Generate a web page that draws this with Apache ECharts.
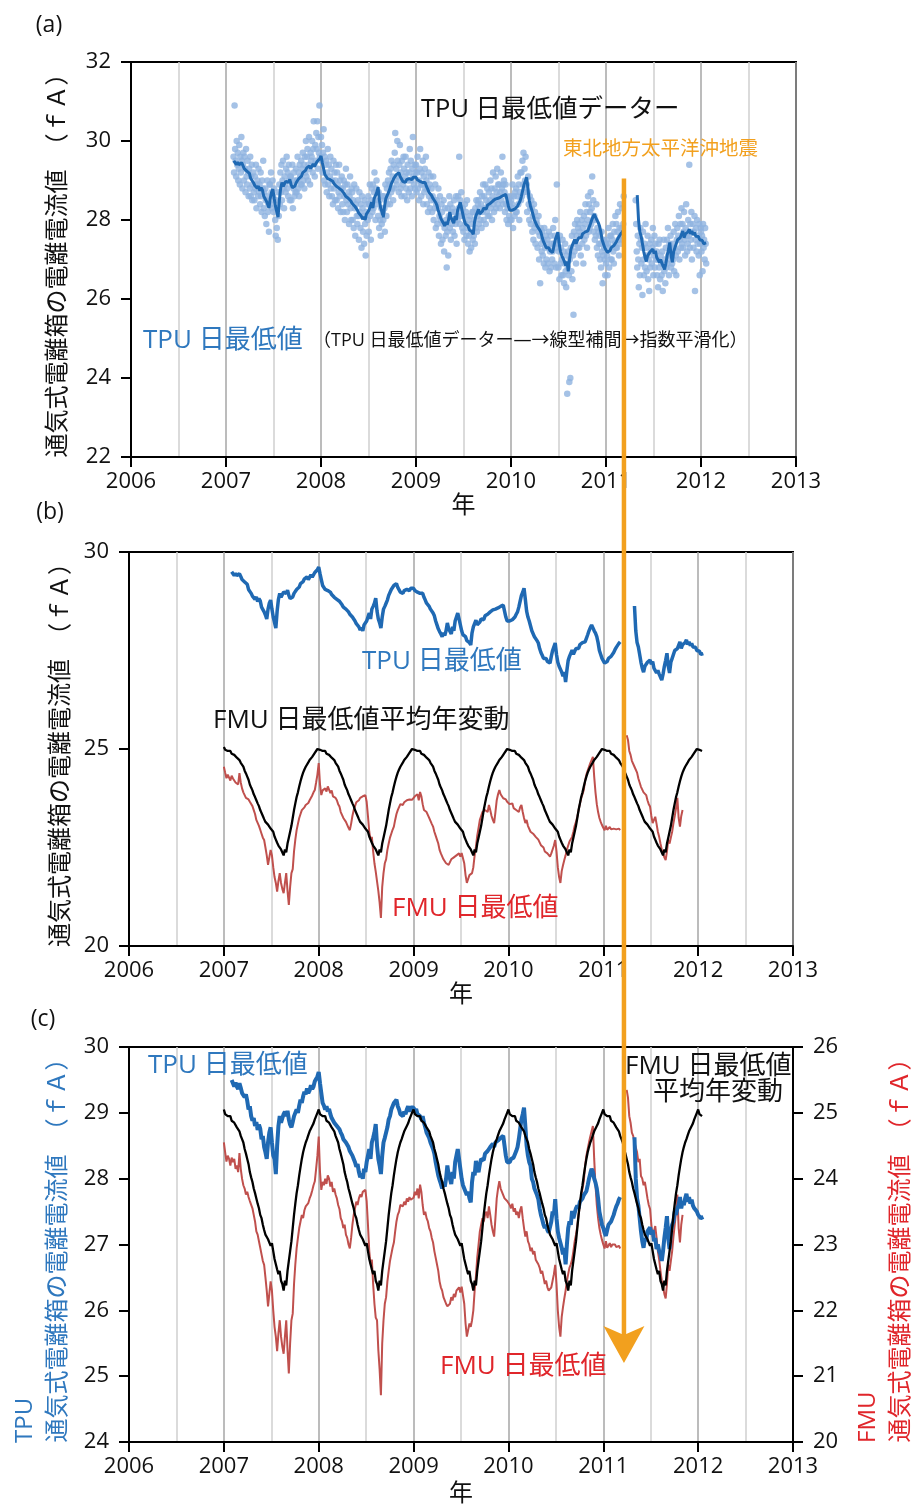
<!DOCTYPE html>
<html>
<head>
<meta charset="utf-8">
<script src="https://cdn.jsdelivr.net/npm/echarts@6/dist/echarts.min.js"></script>
<style>
  html, body { margin: 0; padding: 0; background: #fff; }
  #chart { width: 916px; height: 1510px; }
</style>
</head>
<body>
<div id="chart"></div>
<script>
// ---- Data -----------------------------------------------------------------
// TPU daily minimum ionisation current (fA), one reading every 2 days.
const tpuDaily2007 = [ // from 2007-01-30
  29.6,29.2,30.9,29.8,29.5,29.1,30.0,29.4,29.7,29.0,
  29.3,29.9,28.9,29.6,29.2,30.1,29.5,28.8,29.4,29.7,
  29.0,29.6,29.3,28.7,29.8,29.1,28.9,29.5,29.2,28.6,
  29.3,28.8,29.6,28.6,29.1,29.4,28.5,28.9,29.2,28.7,
  28.5,29.1,28.8,29.4,28.3,28.9,29.0,28.6,29.3,28.7,
  28.9,28.4,29.2,28.6,28.2,29.0,28.8,29.5,28.3,28.7,
  28.1,28.8,28.5,27.9,28.6,29.0,28.2,28.4,27.7,28.9,
  28.9,28.4,29.2,28.7,28.3,29.0,28.6,28.2,28.8,28.5,
  28.0,27.6,28.5,27.8,28.3,27.5,28.7,28.1,28.9,28.4,
  29.2,28.7,29.4,28.5,29.0,29.5,28.8,28.3,29.1,28.9,
  28.7,29.3,29.6,28.8,29.2,28.6,29.4,29.0,28.5,29.1,
  29.1,28.5,28.9,29.4,28.3,28.8,29.2,28.6,29.0,28.7,
  29.3,28.7,29.0,29.6,28.8,29.2,28.6,29.4,29.1,28.9,
  29.5,28.9,29.3,29.7,29.0,29.4,28.8,29.6,29.2,30.0,
  29.1,29.6,29.8,29.0,29.4,30.1,29.3,28.9,29.7,29.5,
  29.6,30.0,29.2,29.8,30.5,29.4,29.1,29.9,29.5,30.2,
  29.8,30.5,29.3,30.1,29.7,30.9,29.6
];
const tpuDaily2008 = [
  30.1,29.5,29.9,29.2,29.7,30.3,29.0,29.6,28.9,29.4,
  29.5,28.7,29.2,29.8,28.9,29.4,28.6,29.1,29.6,28.8,
  29.3,28.6,29.0,28.4,29.5,28.8,29.2,28.5,29.0,29.4,
  28.5,29.2,28.9,28.3,28.7,29.4,28.6,29.0,28.2,28.8,
  29.1,28.4,28.8,28.2,29.0,28.6,28.0,28.9,29.3,28.5,
  28.2,28.9,28.4,28.7,27.9,28.6,29.1,28.3,28.0,28.8,
  28.7,28.0,28.5,27.8,28.9,28.3,27.6,28.4,28.8,28.1,
  27.9,28.5,28.1,27.5,28.7,28.2,27.8,28.4,27.3,28.6,
  28.3,27.7,28.1,27.4,28.5,27.9,27.1,28.2,27.6,28.4,
  28.0,28.6,27.7,28.4,28.9,28.1,27.5,28.5,28.8,28.2,
  28.9,28.3,28.7,29.2,28.5,28.0,28.8,29.0,28.4,28.7,
  28.1,28.7,27.8,28.5,28.0,27.6,28.3,27.9,28.6,28.2,
  28.0,28.6,28.3,27.7,28.9,28.5,28.1,28.8,28.4,29.0,
  28.6,29.2,28.9,28.4,29.3,28.7,29.5,28.8,29.1,28.5,
  29.4,28.8,29.7,30.2,29.0,29.3,28.9,30.0,29.5,29.1,
  28.7,29.4,29.9,28.8,29.2,28.6,29.5,29.0,28.9,29.6,
  29.3,28.6,29.1,29.6,28.8,29.2,28.5,29.4,29.0,28.7,
  29.2,29.8,28.8,29.5,29.0,28.6,29.3,30.1,29.1,28.9,
  29.4,28.8,29.2
];
const tpuDaily2009 = [
  29.4,28.7,29.2,29.6,28.8,29.0,28.5,29.3,29.8,28.9,
  28.6,29.2,28.9,29.5,28.4,29.1,28.7,29.3,28.8,29.6,
  29.0,28.4,28.8,28.2,29.2,28.6,28.9,28.3,29.1,28.5,
  28.8,28.2,28.6,29.1,28.0,28.5,28.3,28.9,27.8,28.4,
  28.5,27.9,28.3,28.8,27.6,28.1,28.6,28.0,27.4,28.4,
  28.2,27.5,27.9,28.5,27.2,27.8,28.3,27.6,28.0,26.8,
  27.7,28.3,27.1,28.1,28.6,27.8,28.4,27.5,28.2,27.9,
  28.3,27.7,28.0,28.5,27.6,28.2,27.9,28.6,27.4,28.1,
  28.0,28.6,28.3,29.6,27.9,28.5,28.1,28.7,28.2,27.8,
  28.3,27.7,28.1,27.5,28.4,27.9,28.2,27.6,28.5,27.8,
  27.4,28.0,27.6,27.2,28.1,27.7,27.3,27.9,28.2,27.5,
  28.2,27.6,28.0,27.4,28.3,27.8,28.5,27.7,28.1,28.4,
  28.5,27.9,28.3,28.7,28.0,28.4,27.8,28.6,28.2,28.9,
  28.0,28.6,28.3,28.9,27.9,28.5,28.2,28.8,28.1,28.4,
  28.7,28.1,28.5,29.0,28.3,28.8,28.0,28.6,29.2,28.4,
  28.2,28.8,28.5,29.1,28.3,28.7,29.3,28.4,28.9,28.6,
  28.9,28.3,28.7,29.2,28.5,28.8,29.6,28.4,28.9,29.0,
  28.7,28.2,28.9,28.4,28.0,28.6,28.3,27.9,28.5,28.1,
  28.4,28.0,28.6
];
const tpuDaily2010 = [
  28.5,28.0,28.4,28.9,27.8,28.3,28.6,28.1,28.7,28.2,
  28.8,28.2,28.6,29.1,28.4,28.9,28.0,28.7,29.2,28.5,
  29.2,28.6,29.5,28.9,29.7,28.7,29.3,29.0,29.6,28.8,
  28.9,28.2,28.7,29.1,28.4,28.0,28.6,28.3,27.9,28.5,
  28.3,27.7,28.1,27.5,28.4,27.8,28.2,27.4,27.9,28.0,
  27.9,27.3,27.7,28.1,27.0,27.6,26.4,27.8,27.4,27.2,
  27.7,27.1,27.5,26.9,27.8,27.3,26.8,27.6,27.0,27.4,
  27.5,26.9,27.3,27.7,26.7,27.2,27.6,26.8,27.4,27.0,
  27.2,27.8,27.4,26.9,27.6,28.0,27.3,26.8,28.9,27.5,
  27.4,26.8,27.2,26.5,27.6,26.9,27.3,26.6,27.0,27.5,
  26.6,27.2,26.4,26.9,27.4,26.7,26.3,27.1,23.6,26.8,
  27.2,26.6,23.9,27.0,24.0,27.3,26.7,27.6,26.5,27.1,
  25.6,27.7,27.2,27.9,27.4,26.9,27.6,28.0,27.3,27.8,
  27.9,27.3,27.7,28.2,27.1,27.6,28.0,27.4,27.8,26.9,
  28.1,27.5,27.9,28.4,27.6,28.2,27.3,28.0,28.6,27.7,
  28.4,27.8,28.2,28.7,27.9,28.3,29.1,28.0,28.5,27.7,
  28.1,27.5,28.0,27.6,28.4,27.3,27.8,27.1,27.7,27.4,
  27.6,27.0,27.4,26.8,27.7,27.2,26.4,27.5,27.1,27.3,
  27.0,26.6,27.4
];
const tpuDaily2011 = [
  26.9,27.5,27.1,26.6,27.4,27.8,26.8,27.3,27.6,27.0,
  27.6,27.0,27.5,27.9,27.2,26.9,27.7,27.4,28.1,27.3,
  27.9,27.3,27.7,28.2,27.5,27.1,27.8,28.4,27.6,27.4,
  27.8,28.3,27.5,27.9,28.6,
  null,null,null,null,null,null,null,null,null,null,null,
  null,null,null,null,null,null,null,null,null,null,null,
  28.5,27.9,27.2,26.8,27.6,27.0,26.3,27.4,26.6,27.8,
  27.5,26.9,27.3,26.1,27.7,27.0,26.6,27.4,26.8,27.9,
  27.3,26.7,27.1,27.6,26.5,27.0,26.2,27.4,26.8,27.2,
  27.5,26.9,27.3,27.8,26.6,27.1,27.6,26.8,27.4,27.0,
  27.2,26.6,27.0,26.3,27.4,26.8,27.5,26.5,27.1,26.9,
  26.6,27.2,26.2,26.9,27.5,26.7,27.0,26.4,27.3,26.8,
  27.5,26.9,27.8,27.1,26.6,27.4,27.0,27.6,26.8,27.3,
  26.9,27.4,27.0,27.7,26.7,27.3,27.9,27.1,26.6,27.5,
  27.8,27.2,27.6,28.1,27.0,27.5,27.9,27.3,28.3,27.4,
  27.9,27.3,27.7,28.2,27.5,27.1,27.8,28.4,27.6,27.2,
  27.4,28.0,27.6,29.4,27.3,27.9,27.5,28.2,27.0,27.7,
  27.9,27.3,27.7,28.1,26.2,27.5,27.8,27.2,28.0,27.4,
  27.6,27.1,27.9,26.6,27.4,27.8
];
const tpuDaily2012 = [27.7,27.2,27.6,26.7,27.9,27.3,27.5,27.0,27.8,27.4,26.9];

// TPU daily minimum after linear interpolation and exponential smoothing, every 5 days.
const tpuSmooth2007 = [ // from 2007-01-31
  29.50,29.45,29.40,29.46,29.40,29.36,29.45,29.38,29.30,29.32,
  29.24,29.28,29.18,29.05,29.10,28.95,28.88,28.92,28.80,28.86,
  28.74,28.82,28.76,28.60,28.65,28.48,28.40,28.30,28.55,28.70,
  28.78,28.55,28.35,28.30,28.07,28.50,28.80,28.95,28.85,28.92,
  28.98,29.02,28.95,29.03,28.90,28.82,28.78,28.86,28.95,28.92,
  29.05,29.00,29.11,29.20,29.15,29.25,29.32,29.28,29.37,29.30,
  29.34,29.42,29.36,29.40,29.48,29.45,29.55
];
const tpuSmooth2008 = [
  29.62,29.45,29.30,29.15,29.11,29.05,29.10,29.02,29.06,28.98,
  28.92,28.95,28.85,28.88,28.80,28.82,28.75,28.70,28.66,28.60,
  28.62,28.55,28.52,28.48,28.42,28.45,28.35,28.30,28.25,28.18,
  28.22,28.10,28.02,28.08,28.00,28.15,28.10,28.25,28.35,28.45,
  28.30,28.55,28.62,28.70,28.83,28.50,28.30,28.20,28.07,28.35,
  28.55,28.62,28.70,28.78,28.90,28.95,29.05,29.08,29.15,29.18,
  29.20,29.10,29.05,28.98,28.95,28.95,29.02,28.98,29.05,29.10,
  29.02,29.08,29.05
];
const tpuSmooth2009 = [
  29.08,29.02,29.06,28.98,29.00,28.95,28.90,28.95,28.85,28.78,
  28.70,28.72,28.62,28.55,28.50,28.45,28.38,28.25,28.15,28.05,
  27.98,27.92,27.85,27.95,27.88,28.00,28.20,28.05,28.00,27.92,
  28.10,28.00,28.25,28.35,28.45,28.30,28.15,28.00,27.90,27.85,
  27.85,27.75,27.80,27.70,27.64,27.95,28.10,28.05,28.27,28.15,
  28.10,28.22,28.30,28.32,28.28,28.38,28.35,28.42,28.40,28.48,
  28.45,28.53,28.48,28.55,28.52,28.58,28.55,28.62,28.60,28.65,
  28.50,28.35,28.25
];
const tpuSmooth2010 = [
  28.22,28.25,28.30,28.28,28.32,28.35,28.42,28.48,28.60,28.75,
  28.90,28.98,29.08,28.80,28.50,28.35,28.25,28.20,28.00,27.95,
  27.85,27.80,27.75,27.69,27.55,27.45,27.38,27.30,27.25,27.30,
  27.22,27.18,27.18,27.35,27.50,27.45,27.69,27.40,27.20,27.10,
  27.08,26.95,26.85,26.95,26.70,27.00,27.25,27.35,27.30,27.51,
  27.40,27.48,27.55,27.59,27.55,27.65,27.62,27.70,27.75,27.72,
  27.81,27.90,28.00,28.08,28.15,28.10,28.00,27.94,27.85,27.70,
  27.50,27.40,27.30
];
const tpuSmooth2011 = [
  27.25,27.18,27.13,27.22,27.30,27.28,27.35,27.38,27.45,27.52,
  27.58,27.62,27.68,27.72,null,null,null,null,null,null,
  null,null,null,null,28.63,28.00,27.70,27.59,27.40,27.20,
  27.05,26.95,27.10,27.05,27.20,27.18,27.26,27.15,27.22,27.05,
  27.10,26.93,27.00,26.90,26.85,26.75,26.90,27.10,27.25,27.43,
  27.10,26.93,27.20,27.30,27.35,27.50,27.45,27.55,27.60,27.72,
  27.55,27.65,27.60,27.70,27.77,27.65,27.72,27.62,27.68,27.59,
  27.55,27.58,27.50
];
const tpuSmooth2012 = [27.45,27.48,27.40,27.43,27.42];

// FMU daily minimum ionisation current (fA), every 5 days.
const fmuDaily2007 = [
  24.55,24.40,24.26,24.35,24.30,24.20,24.32,24.25,24.30,24.15,
  24.20,24.10,24.39,24.15,24.00,23.90,23.85,23.76,23.80,23.72,
  23.66,23.66,23.55,23.45,23.35,23.20,23.15,23.05,22.95,22.85,
  22.75,22.69,22.50,22.30,22.06,22.25,22.44,22.30,22.00,21.75,
  21.60,21.38,21.65,21.85,21.60,21.45,21.34,21.60,21.85,21.40,
  21.04,21.50,21.85,21.95,22.40,22.70,22.94,23.10,23.25,23.35,
  23.45,23.40,23.52,23.58,23.55,23.63,23.70,23.75,23.82,23.90,
  23.96,24.15,24.35
];
const fmuDaily2008 = [
  24.64,24.10,23.83,23.95,23.90,24.00,23.92,24.05,24.00,23.88,
  23.95,23.80,23.85,23.76,23.70,23.60,23.54,23.40,23.35,23.25,
  23.30,23.15,23.10,23.00,22.94,23.10,23.30,23.45,23.55,23.65,
  23.60,23.70,23.76,23.72,23.80,23.78,23.83,23.66,23.30,22.90,
  22.70,22.77,22.40,22.10,21.89,21.85,21.40,21.10,20.71,21.50,
  21.85,22.10,22.20,22.44,22.60,22.75,22.85,22.95,23.03,23.20,
  23.35,23.45,23.50,23.60,23.63,23.58,23.65,23.60,23.70,23.65,
  23.72,23.68,23.71
];
const fmuDaily2009 = [
  23.71,23.80,23.75,23.85,23.70,23.91,23.80,23.60,23.45,23.50,
  23.40,23.35,23.25,23.20,23.10,23.03,22.90,22.80,22.70,22.60,
  22.44,22.35,22.30,22.20,22.15,22.10,22.06,22.06,22.10,22.20,
  22.15,22.25,22.20,22.30,22.27,22.35,22.27,22.36,22.36,22.10,
  21.80,21.60,21.70,21.80,21.75,21.85,22.00,22.30,22.52,22.80,
  23.00,23.20,23.30,23.40,23.35,23.45,23.50,23.40,23.58,23.45,
  23.30,23.20,23.12,23.40,23.70,23.85,23.96,23.85,23.80,23.75,
  23.70,23.72,23.66
];
const fmuDaily2010 = [
  23.66,23.60,23.55,23.62,23.50,23.55,23.45,23.50,23.40,23.52,
  23.58,23.40,23.25,23.12,23.20,23.05,23.00,22.90,22.95,22.85,
  22.90,22.77,22.80,22.70,22.65,22.56,22.60,22.50,22.40,22.45,
  22.35,22.30,22.27,22.35,22.45,22.55,22.69,22.40,22.00,21.75,
  21.60,21.90,22.05,22.18,22.30,22.45,22.55,22.65,22.70,22.77,
  22.90,23.05,23.15,23.28,23.45,23.60,23.75,23.85,23.96,24.20,
  24.35,24.45,24.55,24.64,24.72,24.80,24.30,23.90,23.60,23.40,
  23.25,23.15,23.07
];
const fmuDaily2011 = [
  23.00,22.94,23.05,22.95,22.94,23.02,22.96,23.00,22.98,23.00,
  22.96,22.94,22.98,22.94,null,null,null,null,25.35,25.23,
  24.95,24.85,24.70,24.65,24.55,24.55,24.40,24.25,24.30,24.04,
  24.00,23.90,23.95,23.83,23.70,23.60,23.54,23.30,23.12,23.20,
  23.28,23.10,22.90,22.77,22.60,22.45,22.35,22.25,22.18,22.40,
  22.69,22.60,22.75,22.90,23.12,23.30,23.50,23.76,23.25,23.03,
  23.30,23.45
];

// FMU mean annual variation of the daily minimum (fA), every 5 days from 1 January.
const fmuMeanAnnualCycle = [
  25.05,24.98,25.00,24.95,24.92,24.95,24.88,24.90,24.85,24.82,
  24.78,24.80,24.72,24.65,24.60,24.55,24.45,24.38,24.30,24.22,
  24.10,24.02,23.95,23.85,23.78,23.70,23.62,23.55,23.45,23.40,
  23.30,23.22,23.15,23.18,23.08,23.05,22.98,23.02,22.90,22.78,
  22.70,22.62,22.55,22.60,22.45,22.40,22.30,22.45,22.38,22.60,
  22.75,22.90,23.05,23.25,23.45,23.62,23.78,23.90,24.05,24.18,
  24.30,24.40,24.48,24.55,24.60,24.66,24.72,24.75,24.80,24.84,
  24.90,24.95,25.00
];
const fmuCycleYears = [2007, 2008, 2009, 2010, 2011];
const fmuCycleSteps2012 = 4;

const quakeDate = '2011-03-11';
const yearTicks = [2006, 2007, 2008, 2009, 2010, 2011, 2012, 2013];

// ---- Helpers ----------------------------------------------------------------
function toDecimalYear(ms) {
  const d = new Date(ms);
  const y = d.getUTCFullYear();
  const s = Date.UTC(y, 0, 1), e = Date.UTC(y + 1, 0, 1);
  return y + (ms - s) / (e - s);
}
function isoToMs(iso) {
  const [y, m, d] = iso.split('-').map(Number);
  return Date.UTC(y, m - 1, d);
}
function dated(startIso, stepDays, values) {
  const t0 = isoToMs(startIso);
  return values.map((v, i) => [toDecimalYear(t0 + i * stepDays * 86400000), v == null ? '-' : v]);
}

const tpuDaily = [].concat(
  dated('2007-01-30', 2, tpuDaily2007), dated('2008-01-01', 2, tpuDaily2008),
  dated('2009-01-01', 2, tpuDaily2009), dated('2010-01-01', 2, tpuDaily2010),
  dated('2011-01-01', 2, tpuDaily2011), dated('2012-01-01', 2, tpuDaily2012));
const tpuSmooth = [].concat(
  dated('2007-01-31', 5, tpuSmooth2007), dated('2008-01-01', 5, tpuSmooth2008),
  dated('2009-01-01', 5, tpuSmooth2009), dated('2010-01-01', 5, tpuSmooth2010),
  dated('2011-01-01', 5, tpuSmooth2011), dated('2012-01-01', 5, tpuSmooth2012));
const fmuDaily = [].concat(
  dated('2007-01-01', 5, fmuDaily2007), dated('2008-01-01', 5, fmuDaily2008),
  dated('2009-01-01', 5, fmuDaily2009), dated('2010-01-01', 5, fmuDaily2010),
  dated('2011-01-01', 5, fmuDaily2011));
const fmuMean = [].concat(
  ...fmuCycleYears.map(y => dated(y + '-01-01', 5, fmuMeanAnnualCycle)),
  dated('2012-01-01', 5, fmuMeanAnnualCycle.slice(0, fmuCycleSteps2012)));

// ---- Styles -----------------------------------------------------------------
const FONT = "'Open Sans', 'Noto Sans CJK JP', sans-serif";
const INK = '#111';
const TPU_LINE = '#1f69b3';
const TPU_DOT = '#8eb3e0';
const TPU_TEXT = '#2f78be';
const FMU_LINE = '#c0504d';
const FMU_TEXT = '#e0262b';
const QUAKE = '#f2a01e';
const AXIS_NAME = '通気式電離箱の電離電流値　（ｆＡ）';

function xAxisFor(gridIndex, nameGap) {
  return {
    type: 'value', gridIndex, min: yearTicks[0], max: yearTicks[yearTicks.length - 1], interval: 1,
    axisLine: { show: true, onZero: false, lineStyle: { color: '#000', width: 2 } },
    axisTick: { show: true, length: 10, lineStyle: { color: '#000', width: 2 } },
    axisLabel: { color: INK, fontSize: 22, fontFamily: FONT, margin: 14, formatter: v => String(Math.round(v)) },
    splitLine: { show: true, lineStyle: { color: '#a6a6a6', width: 1.5 } },
    minorTick: { show: false, splitNumber: 2 },
    minorSplitLine: { show: true, lineStyle: { color: '#cfcfcf', width: 1.5 } },
    name: '年', nameLocation: 'middle', nameGap,
    nameTextStyle: { color: INK, fontSize: 24, fontFamily: FONT }
  };
}
function yAxisFor(gridIndex, min, max, interval, opts) {
  return Object.assign({
    type: 'value', gridIndex, min, max, interval,
    axisLine: { show: true, onZero: false, lineStyle: { color: '#000', width: 2 } },
    axisTick: { show: true, length: 10, lineStyle: { color: '#000', width: 2 } },
    axisLabel: { color: INK, fontSize: 22, fontFamily: FONT, margin: 20 },
    splitLine: { show: false },
    nameLocation: 'middle', nameRotate: 90,
    nameTextStyle: { color: INK, fontSize: 24, fontFamily: FONT }
  }, opts);
}
function line(data, xi, yi, color, width, z) {
  return { type: 'line', data, xAxisIndex: xi, yAxisIndex: yi, showSymbol: false, symbol: 'none',
    connectNulls: false, lineStyle: { color, width }, itemStyle: { color }, z, silent: true };
}
const gridBase = { show: true, borderColor: '#000', borderWidth: 2, backgroundColor: 'transparent',
  containLabel: false, outerBoundsMode: 'none' };

const option = {
  animation: false,
  backgroundColor: '#fff',
  grid: [
    Object.assign({ left: 131, top: 62, width: 665, height: 395 }, gridBase),
    Object.assign({ left: 129, top: 552, width: 664, height: 394 }, gridBase),
    Object.assign({ left: 129, top: 1047, width: 664, height: 395 }, gridBase)
  ],
  xAxis: [xAxisFor(0, 35), xAxisFor(1, 36), xAxisFor(2, 40)],
  yAxis: [
    yAxisFor(0, 22, 32, 2, { name: AXIS_NAME, nameGap: 61 }),
    yAxisFor(1, 20, 30, 5, { name: AXIS_NAME, nameGap: 53 }),
    yAxisFor(2, 24, 30, 1, { name: AXIS_NAME, nameGap: 59,
      nameTextStyle: { color: TPU_TEXT, fontSize: 24, fontFamily: FONT } }),
    yAxisFor(2, 20, 26, 1, { position: 'right', name: AXIS_NAME, nameGap: 96,
      nameTextStyle: { color: FMU_TEXT, fontSize: 24, fontFamily: FONT } })
  ],
  series: [
    { type: 'scatter', data: tpuDaily, xAxisIndex: 0, yAxisIndex: 0, symbol: 'circle', symbolSize: 6.5,
      itemStyle: { color: TPU_DOT }, z: 1, silent: true },
    line(tpuSmooth, 0, 0, TPU_LINE, 3, 2),
    line(fmuDaily, 1, 1, FMU_LINE, 2, 2),
    line(fmuMean, 1, 1, '#000', 2.3, 3),
    line(tpuSmooth, 1, 1, TPU_LINE, 3.5, 4),
    line(fmuDaily, 2, 3, FMU_LINE, 2, 2),
    line(tpuSmooth, 2, 2, TPU_LINE, 4, 3),
    line(fmuMean, 2, 3, '#000', 2.3, 4)
  ]
};

const chart = echarts.init(document.getElementById('chart'), null, { renderer: 'canvas' });
chart.setOption(option);

// ---- Annotations ---------------------------------------------------------------
function txt(x, y, text, size, fill, align) {
  return { type: 'text', x, y, z: 50, silent: true,
    style: { text, fontSize: size, fontFamily: FONT, fill, align: align || 'left', verticalAlign: 'middle' } };
}
function vtxt(x, y, text, size, fill) {
  return { type: 'text', x, y, rotation: Math.PI / 2, z: 50, silent: true,
    style: { text, fontSize: size, fontFamily: FONT, fill, align: 'left', verticalAlign: 'middle' } };
}

// Earthquake marker: vertical arrow from panel (a) down into panel (c).
const quakeX = chart.convertToPixel({ xAxisIndex: 0 }, toDecimalYear(isoToMs(quakeDate)));
const arrowTop = chart.convertToPixel({ yAxisIndex: 0 }, 29.05);
const arrowTip = chart.convertToPixel({ yAxisIndex: 2 }, 25.2);
const headLen = 37, headHalf = 20.5, notch = 9;

chart.setOption({
  graphic: [
    txt(49, 25, '(a)', 23, INK, 'center'),
    txt(50, 512, '(b)', 23, INK, 'center'),
    txt(43, 1019, '(c)', 23, INK, 'center'),

    txt(421, 110, 'TPU 日最低値データー', 25.5, INK),
    txt(563, 149, '東北地方太平洋沖地震', 19.5, QUAKE),
    txt(143, 341, 'TPU 日最低値', 26, TPU_TEXT),
    txt(313, 341, '（TPU 日最低値データー—→線型補間→指数平滑化）', 18, INK),

    txt(362, 662, 'TPU 日最低値', 26, TPU_TEXT),
    txt(213, 721, 'FMU 日最低値平均年変動', 26, INK),
    txt(392, 909, 'FMU 日最低値', 26, FMU_TEXT),

    txt(148, 1066, 'TPU 日最低値', 26, TPU_TEXT),
    txt(625, 1067, 'FMU 日最低値', 26, INK),
    txt(653, 1093, '平均年変動', 26, INK),
    txt(440, 1367, 'FMU 日最低値', 26, FMU_TEXT),

    vtxt(25, 1443, 'TPU', 24, TPU_TEXT),
    vtxt(868, 1443, 'FMU', 24, FMU_TEXT),

    { type: 'line', z: 60, silent: true,
      shape: { x1: quakeX, y1: arrowTop, x2: quakeX, y2: arrowTip - headLen + notch + 2 },
      style: { stroke: QUAKE, lineWidth: 4.5 } },
    { type: 'polygon', z: 60, silent: true,
      shape: { points: [
        [quakeX - headHalf, arrowTip - headLen],
        [quakeX, arrowTip - headLen + notch],
        [quakeX + headHalf, arrowTip - headLen],
        [quakeX, arrowTip]
      ] },
      style: { fill: QUAKE } }
  ]
});
</script>
</body>
</html>
